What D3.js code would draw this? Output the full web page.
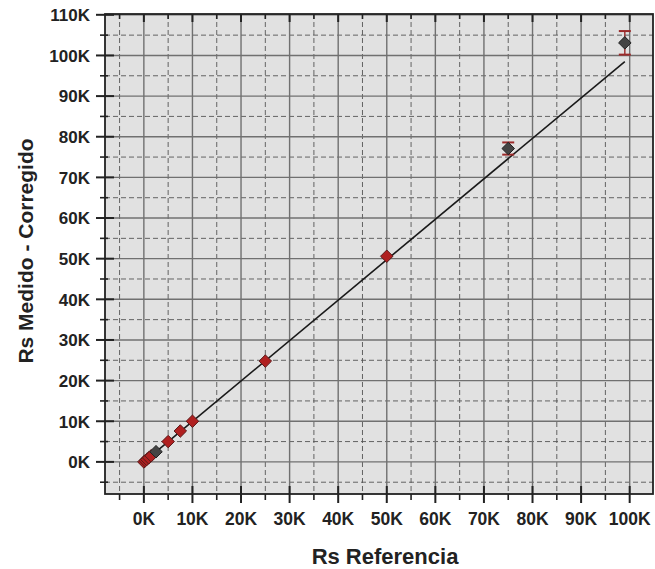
<!DOCTYPE html>
<html>
<head>
<meta charset="utf-8">
<script src="https://cdn.jsdelivr.net/npm/d3@7"></script>
<style>
  html, body { margin: 0; padding: 0; background: #fff; }
  svg { display: block; }
  text { font-family: "Liberation Sans", Arial, sans-serif; font-weight: bold; fill: #222; }
</style>
</head>
<body>
<div id="chart"></div>
<script>
// ---- data (values in K) ----
const refValues  = [0, 0.3, 0.6, 1.0, 1.5, 2.5, 5, 7.5, 10, 25, 50, 75, 99];
const measValues = [0, 0.3, 0.6, 1.0, 1.5, 2.5, 5, 7.6, 10, 24.8, 50.6, 77.1, 103.1];
const errValues  = [0, 0, 0, 0, 0, 0, 0, 0, 0, 0, 0, 1.5, 2.9];
const pointKind  = ["red","red","red","red","red","dark","red","red","red","red","red","dark","dark"];
const fitX = [0, 99];
const fitY = [0, 98.5];
const xTicks = [0,10,20,30,40,50,60,70,80,90,100];
const yTicks = [0,10,20,30,40,50,60,70,80,90,100,110];
const xMinor = [-5,5,15,25,35,45,55,65,75,85,95];
const yMinor = [-5,5,15,25,35,45,55,65,75,85,95,105];
const xTitle = "Rs Referencia";
const yTitle = "Rs Medido - Corregido";

const W = 655, H = 569;
const L = 105, R = 653, T = 14, B = 494;

const svg = d3.select("#chart").append("svg").attr("width", W).attr("height", H);

const x = d3.scaleLinear().domain([-8, 104.8]).range([L, R]);
const y = d3.scaleLinear().domain([-7.9, 110.2]).range([B, T]);

// plot background
svg.append("rect").attr("x", L).attr("y", T).attr("width", R - L).attr("height", B - T)
  .attr("fill", "#e1e1e1");

const grid = svg.append("g");
// minor dashed grid
grid.selectAll("line.xm").data(xMinor).join("line")
  .attr("x1", d => x(d)).attr("x2", d => x(d)).attr("y1", T).attr("y2", B)
  .attr("stroke", "#555").attr("stroke-width", 0.9).attr("stroke-dasharray", "5,3");
grid.selectAll("line.ym").data(yMinor).join("line")
  .attr("y1", d => y(d)).attr("y2", d => y(d)).attr("x1", L).attr("x2", R)
  .attr("stroke", "#555").attr("stroke-width", 0.9).attr("stroke-dasharray", "5,3");
// major solid grid
grid.selectAll("line.xM").data(xTicks).join("line")
  .attr("x1", d => x(d)).attr("x2", d => x(d)).attr("y1", T).attr("y2", B)
  .attr("stroke", "#707070").attr("stroke-width", 1.4);
grid.selectAll("line.yM").data(yTicks).join("line")
  .attr("y1", d => y(d)).attr("y2", d => y(d)).attr("x1", L).attr("x2", R)
  .attr("stroke", "#707070").attr("stroke-width", 1.4);

// frame
svg.append("rect").attr("x", L).attr("y", T).attr("width", R - L).attr("height", B - T)
  .attr("fill", "none").attr("stroke", "#222").attr("stroke-width", 1.8);

// axes with crossing ticks
const fmt = d => d + "K";
const gx = svg.append("g");
gx.selectAll("line.t").data(xTicks).join("line")
  .attr("x1", d => x(d)).attr("x2", d => x(d)).attr("y1", B - 8).attr("y2", B + 9)
  .attr("stroke", "#222").attr("stroke-width", 2);
gx.selectAll("line.m").data(xMinor).join("line")
  .attr("x1", d => x(d)).attr("x2", d => x(d)).attr("y1", B).attr("y2", B + 6)
  .attr("stroke", "#222").attr("stroke-width", 1.6);
gx.selectAll("text").data(xTicks).join("text")
  .attr("x", d => x(d)).attr("y", B + 31).attr("text-anchor", "middle")
  .attr("font-size", 17.5).text(fmt);
// top ticks
gx.selectAll("line.tt").data(xTicks).join("line")
  .attr("x1", d => x(d)).attr("x2", d => x(d)).attr("y1", T).attr("y2", T + 8)
  .attr("stroke", "#222").attr("stroke-width", 2);
gx.selectAll("line.tm").data(xMinor).join("line")
  .attr("x1", d => x(d)).attr("x2", d => x(d)).attr("y1", T).attr("y2", T + 5)
  .attr("stroke", "#222").attr("stroke-width", 1.6);

const gy = svg.append("g");
gy.selectAll("line.t").data(yTicks).join("line")
  .attr("y1", d => y(d)).attr("y2", d => y(d)).attr("x1", L - 9).attr("x2", L + 9)
  .attr("stroke", "#222").attr("stroke-width", 2);
gy.selectAll("line.m").data(yMinor).join("line")
  .attr("y1", d => y(d)).attr("y2", d => y(d)).attr("x1", L - 5).attr("x2", L + 3)
  .attr("stroke", "#222").attr("stroke-width", 1.6);
gy.selectAll("text").data(yTicks).join("text")
  .attr("x", L - 15).attr("y", d => y(d) + 6.3).attr("text-anchor", "end")
  .attr("font-size", 17).text(fmt);

// titles
svg.append("text").attr("x", 385).attr("y", 564).attr("text-anchor", "middle")
  .attr("font-size", 22).text(xTitle);
svg.append("text").attr("transform", `translate(33, 251) rotate(-90)`)
  .attr("text-anchor", "middle").attr("font-size", 21).text(yTitle);

// fit line
svg.append("line")
  .attr("x1", x(fitX[0])).attr("y1", y(fitY[0])).attr("x2", x(fitX[1])).attr("y2", y(fitY[1]))
  .attr("stroke", "#1a1a1a").attr("stroke-width", 1.6);

// error bars
const pts = refValues.map((v, i) => ({ x: v, y: measValues[i], e: errValues[i], k: pointKind[i] }));
const eb = svg.append("g");
pts.filter(d => d.e > 0).forEach(d => {
  eb.append("line").attr("x1", x(d.x)).attr("x2", x(d.x)).attr("y1", y(d.y - d.e)).attr("y2", y(d.y + d.e))
    .attr("stroke", "#9b2a2a").attr("stroke-width", 1.4);
  [d.y - d.e, d.y + d.e].forEach(v => {
    eb.append("line").attr("x1", x(d.x) - 6).attr("x2", x(d.x) + 6).attr("y1", y(v)).attr("y2", y(v))
      .attr("stroke", "#9b2a2a").attr("stroke-width", 2);
  });
});

// diamonds
const sym = d3.symbol().type(d3.symbolDiamond2).size(100);
svg.append("g").selectAll("path").data(pts).join("path")
  .attr("transform", d => `translate(${x(d.x)},${y(d.y)})`)
  .attr("d", sym)
  .attr("fill", d => d.k === "red" ? "#b02020" : "#444")
  .attr("stroke", d => d.k === "red" ? "#5a1a1a" : "#222")
  .attr("stroke-width", 1);
</script>
</body>
</html>
